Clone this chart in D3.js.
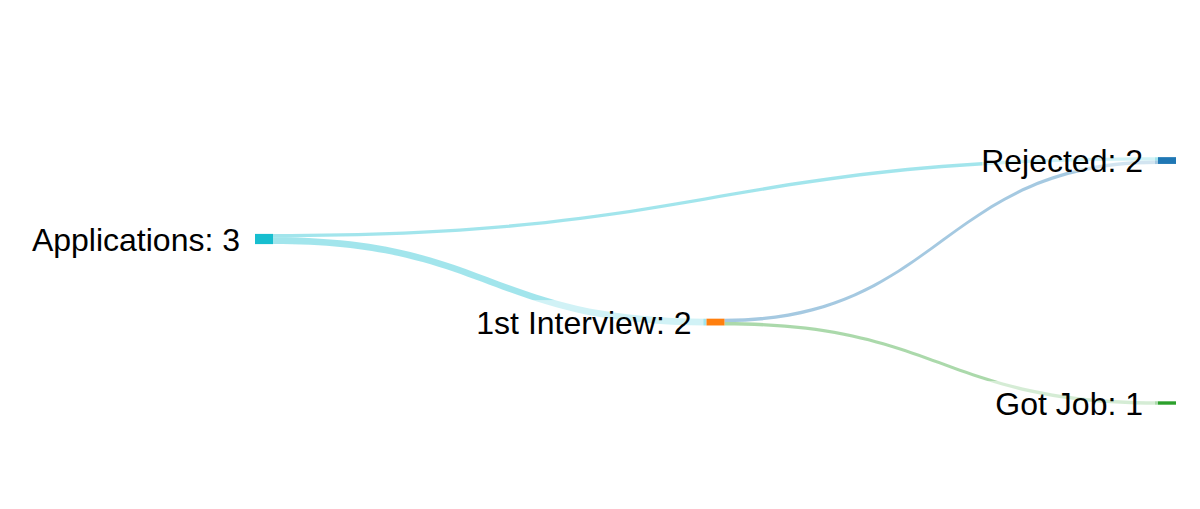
<!DOCTYPE html>
<html>
<head>
<meta charset="utf-8">
<script src="https://cdn.jsdelivr.net/npm/d3@7"></script>
<style>
  html, body { margin: 0; padding: 0; background: #fff; }
  svg { display: block; }
</style>
</head>
<body>
<svg class="sankey"></svg>
<script>
// nodes
const nodeLabels = ["Applications", "1st Interview", "Rejected", "Got Job"];
const nodeColors = ["#17becf", "#ff7f0e", "#1f77b4", "#2ca02c"];
const nodeColumn = [0, 1, 2, 2];
const nodeY = [0.4225, 0.675, 0.184, 0.921]; // centre, as fraction of plot height

// links
const linkSource = [0, 0, 1, 1];
const linkTarget = [2, 1, 2, 3];
const linkValue = [1, 2, 1, 1];
const linkColors = [
  "rgba(23,190,207,0.4)",
  "rgba(23,190,207,0.4)",
  "rgba(31,119,180,0.4)",
  "rgba(44,160,44,0.4)"
];

const width = 1200;
const height = 509;
const nodeWidth = 18;

const svg = d3.select("svg.sankey")
  .attr("width", width)
  .attr("height", height);

const xScale = d3.scalePoint().domain([0, 1, 2]).range([255, 1158]);
const yScale = d3.scaleLinear().domain([0, 1]).range([100, 429]);
const vScale = d3.scaleLinear().domain([0, 1]).range([0, 3.4]);

const nodes = nodeLabels.map((label, i) => ({
  index: i,
  label: label,
  color: nodeColors[i],
  cy: yScale(nodeY[i]),
  x0: xScale(nodeColumn[i]),
  x1: xScale(nodeColumn[i]) + nodeWidth,
  out: [],
  inc: []
}));

const links = linkValue.map((v, i) => ({
  value: v,
  source: nodes[linkSource[i]],
  target: nodes[linkTarget[i]],
  color: linkColors[i]
}));

links.forEach(l => {
  l.source.out.push(l);
  l.target.inc.push(l);
});

nodes.forEach(n => {
  n.value = Math.max(d3.sum(n.out, l => l.value), d3.sum(n.inc, l => l.value));
  n.h = vScale(n.value);
  n.y0 = n.cy - n.h / 2;
  n.y1 = n.cy + n.h / 2;
  // stack links in order of the other end's position
  let y = n.y0;
  n.out.sort((a, b) => a.target.cy - b.target.cy).forEach(l => {
    l.sy0 = y;
    y += vScale(l.value);
    l.sy1 = y;
  });
  y = n.y0;
  n.inc.sort((a, b) => a.source.cy - b.source.cy).forEach(l => {
    l.ty0 = y;
    y += vScale(l.value);
    l.ty1 = y;
  });
});

function linkPath(l) {
  const x0 = l.source.x1;
  const x1 = l.target.x0;
  const xi = d3.interpolateNumber(x0, x1);
  const xa = xi(0.5);
  const xb = xi(0.5);
  return "M" + x0 + "," + l.sy0 +
    "C" + xa + "," + l.sy0 + " " + xb + "," + l.ty0 + " " + x1 + "," + l.ty0 +
    "L" + x1 + "," + l.ty1 +
    "C" + xb + "," + l.ty1 + " " + xa + "," + l.sy1 + " " + x0 + "," + l.sy1 +
    "Z";
}

svg.append("g")
  .attr("class", "links")
  .selectAll("path")
  .data(links)
  .enter()
  .append("path")
  .attr("d", linkPath)
  .attr("fill", d => d.color)
  .attr("stroke", "none");

// faded band behind each label
svg.append("g")
  .attr("class", "label-bg")
  .selectAll("rect")
  .data(nodes)
  .enter()
  .append("rect")
  .attr("x", d => d.x0 - 176)
  .attr("width", 173)
  .attr("y", d => d.cy - 22)
  .attr("height", 33)
  .attr("fill", "#fff")
  .attr("fill-opacity", 0.5);

svg.append("g")
  .attr("class", "nodes")
  .selectAll("rect")
  .data(nodes)
  .enter()
  .append("rect")
  .attr("x", d => d.x0)
  .attr("y", d => d.y0)
  .attr("width", nodeWidth)
  .attr("height", d => d.h)
  .attr("fill", d => d.color);

svg.append("g")
  .attr("class", "labels")
  .selectAll("text")
  .data(nodes)
  .enter()
  .append("text")
  .attr("x", d => d.x0 - 15)
  .attr("y", d => d.cy)
  .attr("dy", "0.37em")
  .attr("text-anchor", "end")
  .style("font-family", "'Liberation Sans', Arial, sans-serif")
  .style("font-size", "32px")
  .attr("fill", "#000")
  .text(d => d.label + ": " + d.value);
</script>
</body>
</html>
